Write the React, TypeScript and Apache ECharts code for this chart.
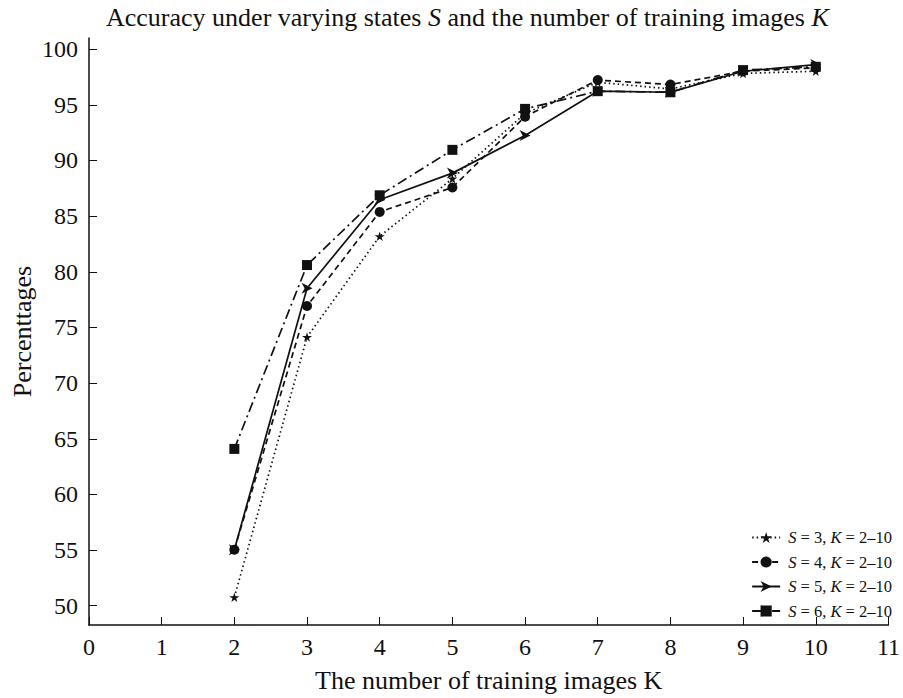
import React, { useEffect, useRef } from "react";
import * as echarts from "echarts";

const kValues = [2, 3, 4, 5, 6, 7, 8, 9, 10];
const s3 = [50.5, 74.0, 83.1, 88.3, 94.2, 97.0, 96.4, 97.8, 98.0];
const s4 = [54.8, 76.8, 85.3, 87.5, 93.9, 97.2, 96.8, 98.0, 98.3];
const s5 = [54.8, 78.4, 86.4, 88.8, 92.2, 96.2, 96.1, 98.0, 98.6];
const s6 = [63.9, 80.5, 86.8, 90.9, 94.6, 96.2, 96.1, 98.1, 98.4];
const seriesNames = ["S=3", "S=4", "S=5", "S=6"];
const legendLabels = [
  "{i|S} = 3, {i|K} = 2–10",
  "{i|S} = 4, {i|K} = 2–10",
  "{i|S} = 5, {i|K} = 2–10",
  "{i|S} = 6, {i|K} = 2–10",
];
const yTickMin = 50;
const yTickMax = 100;
const yTickStep = 5;
const yAxisMin = 48;
const yAxisMax = 101;

const FONT = "'Liberation Serif', 'Times New Roman', serif";
const INK = "#111";

const STAR = "path://M50,0 L61,35 L98,35 L68,57 L79,91 L50,70 L21,91 L32,57 L2,35 L39,35 Z";
const DART = "path://M0,0 L100,50 L0,100 L28,50 Z";

export default function App() {
  const ref = useRef<HTMLDivElement>(null);
  useEffect(() => {
    if (!ref.current) return;
    const chart = echarts.init(ref.current, undefined, { renderer: "svg" });
    const mk = (vals: number[]) => vals.map((v, i) => [kValues[i], v]);
    const styles = [
      { data: s3, type: [1.5, 3], symbol: STAR, size: 10 },
      { data: s4, type: [6, 4], symbol: "circle", size: 10 },
      { data: s5, type: "solid", symbol: DART, size: 11 },
      { data: s6, type: [10, 4, 2, 4], symbol: "rect", size: 10 },
    ];
    const gTop = 38;
    const gBottom = 70;
    const H = 698;
    const pxPerUnit = (H - gTop - gBottom) / (yAxisMax - yAxisMin);
    chart.setOption({
      animation: false,
      backgroundColor: "#fff",
      title: {
        text: "Accuracy under varying states {i|S} and the number of training images {i|K}",
        left: 106,
        top: 4,
        padding: 0,
        textStyle: {
          fontFamily: FONT,
          fontSize: 26,
          fontWeight: "normal",
          color: INK,
          rich: { i: { fontFamily: FONT, fontSize: 26, fontStyle: "italic", color: INK } },
        },
      },
      grid: [
        { left: 89, right: 11, top: gTop, bottom: gBottom, containLabel: false },
        {
          left: 89,
          right: 11,
          top: gTop + (yAxisMax - yTickMax) * pxPerUnit,
          bottom: gBottom + (yTickMin - yAxisMin) * pxPerUnit,
          containLabel: false,
        },
      ],
      legend: {
        orient: "vertical",
        right: 11,
        top: 529,
        padding: 0,
        itemWidth: 28,
        itemHeight: 14,
        itemGap: 7.5,
        align: "left",
        data: seriesNames,
        formatter: (name: string) => legendLabels[seriesNames.indexOf(name)],
        textStyle: {
          fontFamily: FONT,
          fontSize: 16.5,
          color: INK,
          padding: [0, 0, 0, 3],
          rich: { i: { fontFamily: FONT, fontSize: 16.5, fontStyle: "italic", color: INK } },
        },
      },
      xAxis: [
        {
          type: "value",
          gridIndex: 0,
          min: 0,
          max: 11,
          interval: 1,
          name: "The number of training images K",
          nameLocation: "middle",
          nameGap: 42,
          nameTextStyle: { fontFamily: FONT, fontSize: 26, color: INK },
          axisLine: { lineStyle: { color: INK, width: 1.5 } },
          axisTick: { inside: true, length: 8, lineStyle: { color: INK, width: 1 } },
          axisLabel: { fontFamily: FONT, fontSize: 24, color: INK, margin: 10 },
          splitLine: { show: false },
        },
        { type: "value", gridIndex: 1, min: 0, max: 11, show: false },
      ],
      yAxis: [
        {
          type: "value",
          gridIndex: 0,
          min: yAxisMin,
          max: yAxisMax,
          name: "Percenttages",
          nameLocation: "middle",
          nameGap: 54,
          nameTextStyle: { fontFamily: FONT, fontSize: 26, color: INK },
          axisLine: { lineStyle: { color: INK, width: 1.5 } },
          axisTick: { show: false },
          axisLabel: { show: false },
          splitLine: { show: false },
        },
        {
          type: "value",
          gridIndex: 1,
          min: yTickMin,
          max: yTickMax,
          interval: yTickStep,
          axisLine: { show: false },
          axisTick: { inside: true, length: 8, lineStyle: { color: INK, width: 1 } },
          axisLabel: { fontFamily: FONT, fontSize: 24, color: INK, margin: 11 },
          splitLine: { show: false },
        },
      ],
      series: styles.map((s, i) => ({
        name: seriesNames[i],
        type: "line",
        xAxisIndex: 0,
        yAxisIndex: 0,
        data: mk(s.data),
        symbol: s.symbol,
        symbolSize: s.size,
        symbolKeepAspect: true,
        showAllSymbol: true,
        color: INK,
        lineStyle: { color: INK, width: 1.7, type: s.type },
        itemStyle: { color: INK, borderWidth: 0 },
      })),
    });
    return () => chart.dispose();
  }, []);
  return (
    <div
      ref={ref}
      style={{ position: "fixed", left: 0, top: 0, width: 903, height: 698, background: "#fff" }}
    />
  );
}
